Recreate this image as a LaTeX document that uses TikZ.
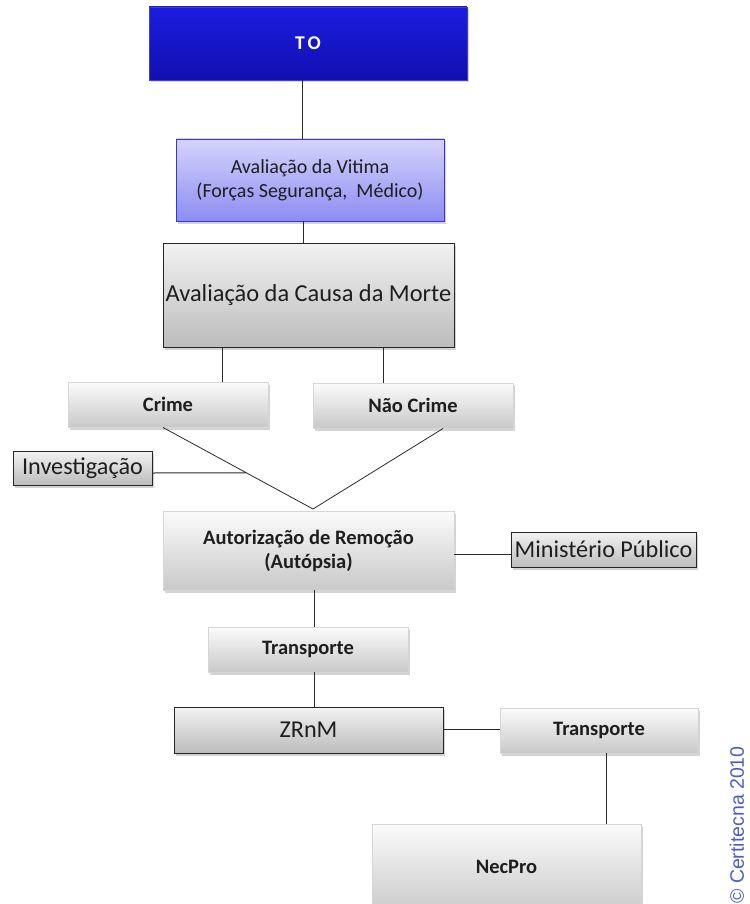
\documentclass[tikz,border=0pt]{standalone}
\usepackage{fontspec}
\setmainfont{Carlito}
\newfontfamily\notefont{Liberation Sans}
\usetikzlibrary{shadows,calc}

\definecolor{toTop}{HTML}{1C1CE0}
\definecolor{toBot}{HTML}{1010B0}
\definecolor{vitTop}{HTML}{D4D4FC}
\definecolor{vitBot}{HTML}{8C8CF2}
\definecolor{vitEdge}{HTML}{3434E0}
\definecolor{grayTop}{HTML}{F2F2F2}
\definecolor{grayBot}{HTML}{BCBCBC}
\definecolor{softTop}{HTML}{FBFBFB}
\definecolor{softBot}{HTML}{C9C9C9}
\definecolor{softEdge}{HTML}{D6D6D6}
\definecolor{inkText}{HTML}{1E1E1E}
\definecolor{noteBlue}{HTML}{4C5CC8}
\definecolor{wire}{HTML}{2A2A2A}

\tikzset{
  boxbase/.style={rectangle, inner sep=0pt, align=center, text=inkText,
    drop shadow={shadow xshift=2pt, shadow yshift=-2.5pt, opacity=0.35}},
  topbox/.style={boxbase, draw=toBot!80!white, line width=0.8pt,
    top color=toTop, bottom color=toBot, text=white,
    font=\fontsize{19.5}{22}\selectfont\bfseries},
  vitbox/.style={boxbase, draw=vitEdge, line width=0.9pt,
    top color=vitTop, bottom color=vitBot,
    font=\fontsize{20}{24}\selectfont},
  hardbox/.style={boxbase, draw=black!85, line width=1pt,
    top color=grayTop, bottom color=grayBot},
  softbox/.style={boxbase, draw=softEdge, line width=0.6pt,
    top color=softTop, bottom color=softBot,
    font=\fontsize{20.5}{24}\selectfont\bfseries},
  wireline/.style={draw=wire, line width=1pt}
}

\begin{document}
\begin{tikzpicture}[x=1pt, y=-1pt]
  \useasboundingbox (0,0) rectangle (749,904);

  % boxes
  \node[topbox, minimum width=318pt, minimum height=73pt] (top) at (308,43.5) {T\kern3pt O};
  \node[vitbox, minimum width=268pt, minimum height=82pt] (vit) at (310,180)
    {Avaliação da Vitima\\(Forças Segurança,\ \ Médico)};
  \node[hardbox, minimum width=291pt, minimum height=104pt,
        font=\fontsize{24.4}{28}\selectfont] (causa) at (308.5,295)
    {Avaliação da Causa da Morte};
  \node[softbox, minimum width=200pt, minimum height=45pt] (crime) at (168,404.5) {Crime};
  \node[softbox, minimum width=200pt, minimum height=45pt] (naocrime) at (413,405.5) {Não Crime};
  \node[hardbox, minimum width=139pt, minimum height=34pt,
        font=\fontsize{24.2}{28}\selectfont] (inv) at (82.5,468) {Investigação};
  \node[softbox, minimum width=291pt, minimum height=79pt] (aut) at (308.5,550.5)
    {Autorização de Remoção\\(Autópsia)};
  \node[hardbox, minimum width=185pt, minimum height=35pt,
        font=\fontsize{24.2}{28}\selectfont] (mp) at (603.5,549.5) {Ministério Público};
  \node[softbox, minimum width=200pt, minimum height=45pt] (trA) at (308,649.5) {Transporte};
  \node[hardbox, minimum width=269pt, minimum height=46pt,
        font=\fontsize{24.2}{28}\selectfont] (zrnm) at (308.5,730) {ZRnM};
  \node[softbox, minimum width=198pt, minimum height=45pt] (trB) at (599,730.5) {Transporte};
  \node[softbox, minimum width=269pt, minimum height=90pt] (nec) at (506.5,869)
    {\raisebox{4pt}{NecPro}};

  % junction points
  \coordinate (apex) at (313,509);
  \coordinate (crimeFoot) at (163,427.5);
  \coordinate (naoFoot) at (443,428.5);
  \coordinate (invJoin) at ($(crimeFoot)!0.556!(apex)$);

  % connectors
  \draw[wireline] (top.south -| 302,0) -- (vit.north -| 302,0);
  \draw[wireline] (vit.south -| 303,0) -- (causa.north -| 303,0);
  \draw[wireline] (causa.south -| 222,0) -- (crime.north -| 222,0);
  \draw[wireline] (causa.south -| 383,0) -- (naocrime.north -| 383,0);
  \draw[wire, line width=0.8pt] (crimeFoot) -- (apex) -- (naoFoot);
  \draw[wireline] (inv.east |- 0,473) -- (invJoin);
  \draw[wireline] (aut.east |- 0,554) -- (mp.west |- 0,554);
  \draw[wireline] (aut.south -| 314,0) -- (trA.north -| 314,0);
  \draw[wireline] (trA.south -| 314,0) -- (zrnm.north -| 314,0);
  \draw[wireline] (zrnm.east |- 0,729) -- (trB.west |- 0,729);
  \draw[wireline] (trB.south -| 606,0) -- (nec.north -| 606,0);

  % copyright note
  \node[rotate=90, text=noteBlue, font=\notefont\fontsize{19.5}{22}\selectfont,
        inner sep=0pt] (note) at (737,825) {© Certitecna 2010};
\end{tikzpicture}
\end{document}
